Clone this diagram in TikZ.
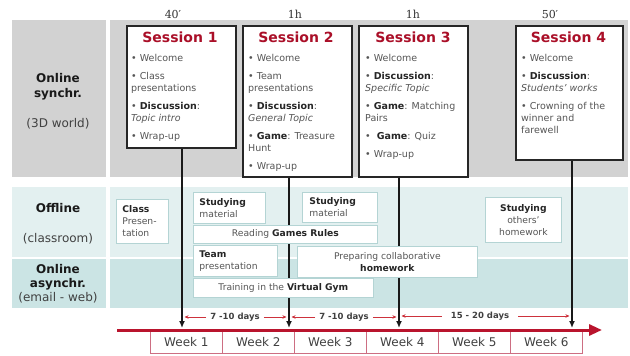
\documentclass[tikz,border=0pt]{standalone}
\usepackage{fontspec}
\setmainfont{DejaVu Sans}
\newfontfamily\durfont{DejaVu Serif}
\usetikzlibrary{arrows.meta}
\definecolor{bandgray}{RGB}{210,210,210}
\definecolor{bandlt}{RGB}{227,240,240}
\definecolor{banddk}{RGB}{203,228,228}
\definecolor{tred}{RGB}{185,20,45}
\definecolor{titlered}{RGB}{170,15,40}
\definecolor{wkborder}{RGB}{205,110,130}
\definecolor{mborder}{RGB}{180,212,212}
\definecolor{txtgray}{RGB}{85,85,85}
\definecolor{dimred}{RGB}{205,50,60}
\newcommand\bdk[1]{\textcolor{black!85}{\textbf{#1}}}
\begin{document}
\begin{tikzpicture}[x=1pt,y=-1pt,
 sessbox/.style={draw=black!85, line width=1.8pt, fill=white, inner sep=0pt, anchor=north west},
 stitle/.style={font=\fontsize{14}{16}\selectfont\bfseries, text=titlered, inner sep=0pt},
 sbody/.style={font=\fontsize{9.5}{12}\selectfont, text=txtgray, align=left, anchor=north west, inner sep=0pt},
 mbox/.style={draw=mborder, line width=0.8pt, fill=white, inner ysep=1pt, text=txtgray, font=\fontsize{9.2}{12}\selectfont, anchor=north west},
 lab/.style={font=\fontsize{12}{14}\selectfont, text=black!75, anchor=base, inner sep=0pt},
 labb/.style={font=\fontsize{12}{14}\selectfont\bfseries, text=black!90, anchor=base, inner sep=0pt},
 dur/.style={font=\durfont\fontsize{11}{13}\selectfont, text=black!80, inner sep=0pt},
 conn/.style={line width=1.5pt, draw=black!90, -{Latex[length=7pt,width=6pt]}},
 dimtxt/.style={font=\fontsize{8.5}{10}\selectfont\bfseries, text=black!75, inner sep=0pt},
 dimarr/.style={draw=dimred, line width=0.7pt, -{Stealth[length=4pt,width=3.5pt]}},
 week/.style={draw=wkborder, line width=0.8pt, fill=white, minimum width=72pt, minimum height=22pt, anchor=north west, font=\fontsize{12}{14}\selectfont, text=black!75, inner sep=0pt},
]
\useasboundingbox (0,0) rectangle (630,356);
\fill[white] (0,0) rectangle (630,356);
% bands
\fill[bandgray] (12,20) rectangle (106,177);
\fill[bandgray] (110,20) rectangle (628,177);
\fill[bandlt] (12,187) rectangle (106,257);
\fill[bandlt] (110,187) rectangle (628,257);
\fill[banddk] (12,259) rectangle (106,308);
\fill[banddk] (110,259) rectangle (628,308);
% durations
\node[dur] (du1) at (173,14) {40′};
\node[dur] (du2) at (295,14) {1h};
\node[dur] (du3) at (413,14) {1h};
\node[dur] (du4) at (550,14) {50′};
% session boxes
\node[sessbox, minimum width=109pt, minimum height=122pt] (s1) at (126,25) {};
\node[sessbox, minimum width=109pt, minimum height=151pt] (s2) at (242,25) {};
\node[sessbox, minimum width=109pt, minimum height=151pt] (s3) at (358,25) {};
\node[sessbox, minimum width=107pt, minimum height=134pt] (s4) at (515,25) {};
\node[stitle] (s1t) at (180,37) {Session 1};
\node[stitle] (s2t) at (296,37) {Session 2};
\node[stitle] (s3t) at (413,37) {Session 3};
\node[stitle] (s4t) at (568.5,37) {Session 4};
\node[sbody] (s1b) at (131,54) {\textbullet{} Welcome\\[6pt]\textbullet{} Class\\presentations\\[6pt]\textbullet{} \bdk{Discussion}:\\\textit{Topic intro}\\[6pt]\textbullet{} Wrap-up};
\node[sbody] (s2b) at (248,54) {\textbullet{} Welcome\\[6pt]\textbullet{} Team\\presentations\\[6pt]\textbullet{} \bdk{Discussion}:\\\textit{General Topic}\\[6pt]\textbullet{} \bdk{Game}: Treasure\\Hunt\\[6pt]\textbullet{} Wrap-up};
\node[sbody] (s3b) at (365,54) {\textbullet{} Welcome\\[6pt]\textbullet{} \bdk{Discussion}:\\\textit{Specific Topic}\\[6pt]\textbullet{} \bdk{Game}: Matching\\Pairs\\[6pt]\textbullet{}\ \ \bdk{Game}: Quiz\\[6pt]\textbullet{} Wrap-up};
\node[sbody] (s4b) at (521,54) {\textbullet{} Welcome\\[6pt]\textbullet{} \bdk{Discussion}:\\\textit{Students’ works}\\[6pt]\textbullet{} Crowning of the\\winner and\\farewell};
% connectors
\coordinate (t1) at (182,328);
\coordinate (t2) at (289,328);
\coordinate (t3) at (399,328);
\coordinate (t4) at (572,328);
\draw[conn] (s1.south -| t1) -- (t1);
\draw[conn] (s2.south -| t2) -- (t2);
\draw[conn] (s3.south -| t3) -- (t3);
\draw[conn] (s4.south -| t4) -- (t4);
% middle boxes
\node[mbox, text width=40pt, inner xsep=6pt, minimum height=44pt, align=left] (cp) at (116,199) {\bdk{Class}\\Presen-\\tation};
\node[mbox, text width=60pt, inner xsep=6pt, minimum height=31pt, align=left] (sm1) at (193,192) {\bdk{Studying}\\material};
\node[mbox, text width=61pt, inner xsep=7pt, minimum height=30pt, align=left] (sm2) at (302,192) {\bdk{Studying}\\material};
\node[mbox, minimum width=184pt, minimum height=18pt] (rg) at (193,225) {Reading \bdk{Games Rules}};
\node[mbox, text width=72pt, inner xsep=6pt, minimum height=31pt, align=left] (tp) at (193,245) {\bdk{Team}\\presentation};
\node[mbox, minimum width=180pt, minimum height=31pt, align=center] (pc) at (297,246) {Preparing collaborative\\\bdk{homework}};
\node[mbox, minimum width=180pt, minimum height=19pt] (tg) at (193,278) {Training in the \bdk{Virtual Gym}};
\node[mbox, minimum width=76pt, minimum height=45pt, align=center] (so) at (485,197) {\bdk{Studying}\\others’\\homework};
% left labels
\node[labb] (l1a) at (58,82.4) {Online};
\node[labb] (l1b) at (58,97.4) {synchr.};
\node[lab] (l1c) at (58,127.4) {(3D world)};
\node[labb] (l2a) at (58,212.4) {Offline};
\node[lab] (l2b) at (58,242.4) {(classroom)};
\node[labb] (l3a) at (58,273.4) {Online};
\node[labb] (l3b) at (58,287.4) {asynchr.};
\node[lab] (l3c) at (58,301.4) {(email - web)};
% weeks
\node[week] (w1) at (150,331) {Week 1};
\node[week] (w2) at (222,331) {Week 2};
\node[week] (w3) at (294,331) {Week 3};
\node[week] (w4) at (366,331) {Week 4};
\node[week] (w5) at (438,331) {Week 5};
\node[week] (w6) at (510,331) {Week 6};
% timeline
\coordinate (tl0) at (117,330);
\coordinate (tl1) at (602,330);
\draw[draw=tred, line width=3pt, -{Triangle[length=13pt,width=11pt]}] (tl0) -- (tl1);
% durations between sessions
\node[dimtxt] (d1) at (235,317) {7 -10 days};
\node[dimtxt] (d2) at (344,317) {7 -10 days};
\node[dimtxt] (d3) at (480,316) {15 - 20 days};
\coordinate (d1l) at (184.5,317);
\coordinate (d1r) at (286.5,317);
\coordinate (d2l) at (291.5,317);
\coordinate (d2r) at (396.5,317);
\coordinate (d3l) at (401.5,316);
\coordinate (d3r) at (569.5,316);
\draw[dimarr, shorten <=4pt] (d1) -- (d1l);
\draw[dimarr, shorten <=4pt] (d1) -- (d1r);
\draw[dimarr, shorten <=4pt] (d2) -- (d2l);
\draw[dimarr, shorten <=4pt] (d2) -- (d2r);
\draw[dimarr, shorten <=9pt] (d3) -- (d3l);
\draw[dimarr, shorten <=9pt] (d3) -- (d3r);
\end{tikzpicture}
\end{document}
